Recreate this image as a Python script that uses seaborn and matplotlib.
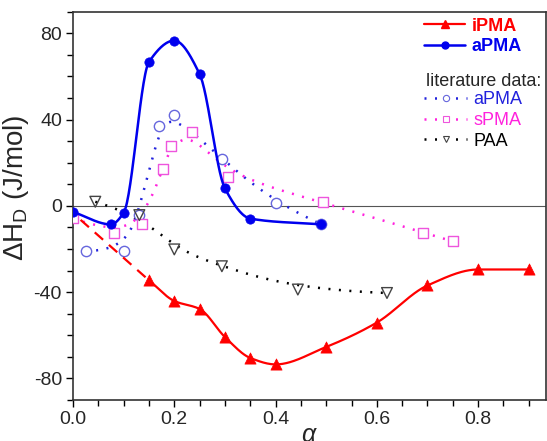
import numpy as np
import pandas as pd
import seaborn as sns
import matplotlib
matplotlib.use("Agg")
import matplotlib.pyplot as plt
from matplotlib.lines import Line2D
from matplotlib.ticker import MultipleLocator

# measured data (this work)
ipma_x = [0.15, 0.2, 0.25, 0.3, 0.35, 0.4, 0.5, 0.6, 0.7, 0.8, 0.9]
ipma_y = [-34.5, -44.1, -47.8, -60.8, -70.5, -73.5, -65.4, -54.1, -36.9, -29.5, -29.5]
ipma_dash_x = [0.015, 0.15]
ipma_dash_y = [-6.5, -34.5]

apma_x = [0.0, 0.075, 0.1, 0.15, 0.2, 0.25, 0.3, 0.35, 0.49]
apma_y = [-2.8, -8.6, -3.2, 66.7, 76.6, 61.1, 8.1, -5.9, -8.6]

# literature data
lit_apma_x = [0.025, 0.1, 0.13, 0.17, 0.2, 0.294, 0.4, 0.49]
lit_apma_y = [-20.9, -20.9, -4.3, 37.1, 42.1, 21.5, 1.1, -8.5]

lit_spma_x = [0.0, 0.081, 0.136, 0.177, 0.193, 0.234, 0.307, 0.493, 0.692, 0.751]
lit_spma_y = [-5.8, -12.4, -8.2, 16.9, 27.7, 34.2, 13.5, 1.9, -12.5, -16.5]

paa_x = [0.044, 0.131, 0.2, 0.294, 0.444, 0.62]
paa_y = [1.9, -4.3, -20.2, -28.0, -38.8, -40.4]

RED = "#ff0000"
BLUE = "#0000ee"
LBLUE = "#2222dd"
LBLUE_M = "#6666dd"
MAG = "#ff22dd"
MAG_M = "#ee55dd"


def pchip(x, y, n=300):
    # monotone cubic spline through the points
    x = np.asarray(x, float)
    y = np.asarray(y, float)
    h = np.diff(x)
    d = np.diff(y) / h
    m = np.zeros_like(y)
    for k in range(1, len(x) - 1):
        if d[k - 1] * d[k] > 0:
            w1 = 2 * h[k] + h[k - 1]
            w2 = h[k] + 2 * h[k - 1]
            m[k] = (w1 + w2) / (w1 / d[k - 1] + w2 / d[k])
    m[0] = d[0]
    m[-1] = d[-1]
    xs = np.linspace(x[0], x[-1], n)
    idx = np.clip(np.searchsorted(x, xs) - 1, 0, len(x) - 2)
    t = (xs - x[idx]) / h[idx]
    h00 = 2 * t**3 - 3 * t**2 + 1
    h10 = t**3 - 2 * t**2 + t
    h01 = -2 * t**3 + 3 * t**2
    h11 = t**3 - t**2
    ys = h00 * y[idx] + h10 * h[idx] * m[idx] + h01 * y[idx + 1] + h11 * h[idx] * m[idx + 1]
    return xs, ys


def bspline(x, y, n=300, k=3):
    # clamped cubic B-spline using the points as control points
    P = np.column_stack([x, y]).astype(float)
    npts = len(P)
    knots = np.concatenate([np.zeros(k), np.linspace(0, 1, npts - k + 1), np.ones(k)])
    t = np.linspace(0, 1, n)
    B = np.zeros((n, len(knots) - 1))
    for i in range(len(knots) - 1):
        B[:, i] = (t >= knots[i]) & (t < knots[i + 1])
    B[-1, :] = 0
    B[-1, npts - 1] = 1
    for p in range(1, k + 1):
        Bn = np.zeros((n, len(knots) - 1 - p))
        for i in range(len(knots) - 1 - p):
            d1 = knots[i + p] - knots[i]
            d2 = knots[i + p + 1] - knots[i + 1]
            a = (t - knots[i]) / d1 * B[:, i] if d1 > 0 else 0
            b = (knots[i + p + 1] - t) / d2 * B[:, i + 1] if d2 > 0 else 0
            Bn[:, i] = a + b
        B = Bn
    out = B @ P
    return out[:, 0], out[:, 1]


sns.set_style("white")
plt.rcParams["font.family"] = ["Liberation Sans", "DejaVu Sans"]
plt.rcParams["mathtext.fontset"] = "custom"
plt.rcParams["mathtext.rm"] = "Liberation Sans"
plt.rcParams["mathtext.it"] = "Liberation Sans:italic"
plt.rcParams["axes.unicode_minus"] = False

fig = plt.figure(figsize=(5.47, 4.41), dpi=100)
ax = fig.add_axes([73 / 547, 1 - 400 / 441, 473 / 547, 388.3 / 441])

ax.axhline(0, color="#555555", lw=0.8, zorder=1)

dot = (0, (0.8, 3.4))

# literature curves
for xx, yy, lc in [(lit_apma_x, lit_apma_y, LBLUE), (lit_spma_x, lit_spma_y, MAG), (paa_x, paa_y, "black")]:
    bx, by = bspline(xx, yy)
    sns.lineplot(x=bx, y=by, ax=ax, color=lc, lw=1.8, linestyle=dot, sort=False, estimator=None, zorder=2)

sns.scatterplot(x=lit_apma_x, y=lit_apma_y, ax=ax, marker="o", s=55, facecolor="white",
                edgecolor=LBLUE_M, linewidth=1.0, zorder=3)
sns.scatterplot(x=lit_spma_x, y=lit_spma_y, ax=ax, marker="s", s=50, facecolor="white",
                edgecolor=MAG_M, linewidth=1.0, zorder=3)
sns.scatterplot(x=paa_x, y=paa_y, ax=ax, marker="v", s=60, facecolor="none",
                edgecolor="#444444", linewidth=1.0, zorder=3)

# this work
sx, sy = pchip(ipma_x, ipma_y)
sns.lineplot(x=sx, y=sy, ax=ax, color=RED, lw=1.6, sort=False, estimator=None, zorder=4)
sns.lineplot(x=ipma_dash_x, y=ipma_dash_y, ax=ax, color=RED, lw=1.6, linestyle=(0, (5, 3.5)),
             sort=False, estimator=None, zorder=4)
sns.scatterplot(x=ipma_x, y=ipma_y, ax=ax, marker="^", s=65, color=RED, edgecolor=RED,
                linewidth=0.5, zorder=5)

sx, sy = pchip(apma_x, apma_y)
sns.lineplot(x=sx, y=sy, ax=ax, color=BLUE, lw=1.8, sort=False, estimator=None, zorder=4)
sns.scatterplot(x=apma_x, y=apma_y, ax=ax, marker="o", s=45, color=BLUE, edgecolor=BLUE,
                linewidth=0.5, zorder=5)

ax.set_xlim(0, 0.934)
ax.set_ylim(-90, 90)
ax.xaxis.set_minor_locator(MultipleLocator(0.05))
ax.yaxis.set_major_locator(MultipleLocator(40))
ax.yaxis.set_minor_locator(MultipleLocator(10))
ax.set_xticks([0.0, 0.2, 0.4, 0.6, 0.8])
ax.set_xticklabels(["0.0", "0.2", "0.4", "0.6", "0.8"])
ax.tick_params(which="both", direction="out", bottom=True, left=True, top=False, right=False,
               labelsize=14, width=1.0, color="black")
ax.tick_params(which="major", length=5, pad=3)
ax.tick_params(which="minor", length=4)
for s in ax.spines.values():
    s.set_color("#333333")
    s.set_linewidth(1.2)

ax.set_xlabel(r"$\alpha$", fontsize=18, family="DejaVu Serif", labelpad=-3)
ax.set_ylabel(r"$\Delta$H$_\mathrm{D}$ (J/mol)", fontsize=20)
ax.yaxis.set_label_coords(-0.088, 0.546)

# legend
h1 = [Line2D([], [], color=RED, lw=1.6, marker="^", ms=6),
      Line2D([], [], color=BLUE, lw=1.8, marker="o", ms=5)]
leg1 = ax.legend(h1, ["iPMA", "aPMA"], loc="upper left", bbox_to_anchor=(0.742, 0.985),
                 frameon=False, handlelength=2.3, handletextpad=0.35,
                 labelspacing=0.2, borderpad=0, borderaxespad=0,
                 prop={"weight": "bold", "size": 13})
for txt, c in zip(leg1.get_texts(), [RED, BLUE]):
    txt.set_color(c)
ax.add_artist(leg1)

ax.text(0.746, 0.82, "literature data:", transform=ax.transAxes, fontsize=13, va="center", ha="left")

h2 = [Line2D([], [], color=LBLUE, lw=1.8, linestyle=dot, marker="o", ms=4.5, mfc="white", mec=LBLUE_M, mew=0.8),
      Line2D([], [], color=MAG, lw=1.8, linestyle=dot, marker="s", ms=4.5, mfc="white", mec=MAG_M, mew=0.8),
      Line2D([], [], color="black", lw=1.8, linestyle=dot, marker="v", ms=5, mfc="white", mec="#444444", mew=0.8)]
leg2 = ax.legend(h2, ["aPMA", "sPMA", "PAA"], loc="upper left", bbox_to_anchor=(0.742, 0.795),
                 frameon=False, fontsize=13, handlelength=2.4, handletextpad=0.35,
                 labelspacing=0.2, borderpad=0, borderaxespad=0)
for txt, c in zip(leg2.get_texts(), [LBLUE, MAG, "black"]):
    txt.set_color(c)

fig.savefig("out.png", dpi=100)
